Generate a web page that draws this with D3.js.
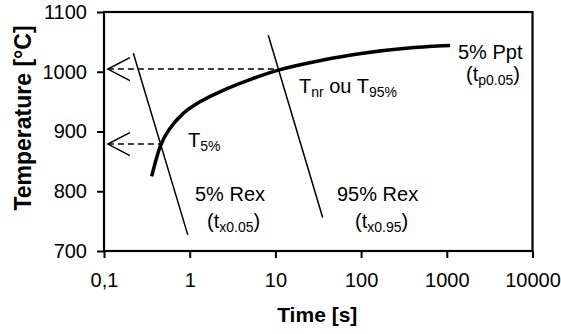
<!DOCTYPE html>
<html>
<head>
<meta charset="utf-8">
<script src="https://cdn.jsdelivr.net/npm/d3@7"></script>
<style>
  body { margin: 0; background: #fff; }
  text { font-family: "Liberation Sans", Arial, sans-serif; fill: #000; }
</style>
</head>
<body>
<svg id="chart" width="561" height="334"></svg>
<script>
// values
var xTicks = [0.1, 1, 10, 100, 1000, 10000];
var xTickLabels = ["0,1", "1", "10", "100", "1000", "10000"];
var yTicks = [700, 800, 900, 1000, 1100];

// 5% precipitation curve
var ppTime = [0.36, 0.45, 0.56, 0.8, 1.3, 2.3, 5.5, 10.8, 33, 97, 340, 1090];
var ppTemp = [825, 879, 902, 930, 950, 968, 989, 1004, 1019, 1031, 1040, 1044];

// recrystallisation lines (two end points each)
var rex5Time = [0.22, 0.95];
var rex5Temp = [1031, 727];
var rex95Time = [8.26, 35.6];
var rex95Temp = [1061, 756];

// dashed arrows: temperature, start time, end time on the curve
var arrowTemp = [1004.5, 879];
var arrowFrom = [0.111, 0.111];
var arrowTo = [10.8, 0.45];

var margin = { top: 12, right: 28.5, bottom: 83, left: 104 };
var width = 561 - margin.left - margin.right,
    height = 334 - margin.top - margin.bottom;

var svg = d3.select("#chart");
var g = svg.append("g").attr("transform", "translate(" + margin.left + "," + margin.top + ")");

var x = d3.scaleLog().domain([0.1, 10000]).range([0, width]);
var y = d3.scaleLinear().domain([700, 1100]).range([height, 0]);

// axes
var xAxis = g.append("g")
  .attr("transform", "translate(0," + height + ")")
  .call(d3.axisBottom(x).tickValues(xTicks).tickSize(7).tickFormat(function(d, i) { return xTickLabels[i]; }));
xAxis.select(".domain").remove();
xAxis.selectAll("line").attr("stroke", "#000").attr("stroke-width", 2);
xAxis.selectAll("text").attr("font-size", 20).attr("y", 22).attr("dy", "0.71em")
  .style("font-family", "Liberation Sans, Arial, sans-serif");

var yAxis = g.append("g")
  .call(d3.axisLeft(y).tickValues(yTicks).tickSize(7).tickPadding(10).tickFormat(d3.format("d")));
yAxis.select(".domain").remove();
yAxis.selectAll("line").attr("stroke", "#000").attr("stroke-width", 2);
yAxis.selectAll("text").attr("font-size", 20)
  .style("font-family", "Liberation Sans, Arial, sans-serif");

// frame
g.append("rect")
  .attr("x", 0).attr("y", 0)
  .attr("width", width).attr("height", height)
  .attr("fill", "none").attr("stroke", "#000").attr("stroke-width", 2.2);

// rex lines
function segment(ts, Ts) {
  g.append("line")
    .attr("x1", x(ts[0])).attr("y1", y(Ts[0]))
    .attr("x2", x(ts[1])).attr("y2", y(Ts[1]))
    .attr("stroke", "#000").attr("stroke-width", 1.5);
}
segment(rex5Time, rex5Temp);
segment(rex95Time, rex95Temp);

// dashed arrows
arrowTemp.forEach(function(T, i) {
  var x0 = x(arrowFrom[i]), x1 = x(arrowTo[i]), yy = y(T);
  g.append("line")
    .attr("x1", x0).attr("y1", yy).attr("x2", x1).attr("y2", yy)
    .attr("stroke", "#000").attr("stroke-width", 1.5).attr("stroke-dasharray", "6,4");
  g.append("path")
    .attr("d", "M" + (x0 + 22) + "," + (yy - 11.5) + "L" + x0 + "," + yy + "L" + (x0 + 22) + "," + (yy + 11.5))
    .attr("fill", "none").attr("stroke", "#000").attr("stroke-width", 1.5);
});

// precipitation curve
var line = d3.line()
  .x(function(d) { return x(d[0]); })
  .y(function(d) { return y(d[1]); })
  .curve(d3.curveBasis);
g.append("path")
  .datum(d3.zip(ppTime, ppTemp))
  .attr("d", line)
  .attr("fill", "none").attr("stroke", "#000").attr("stroke-width", 3.5);

// labels with subscripts
function label(px, py, parts) {
  var t = svg.append("text").attr("x", px).attr("y", py).attr("font-size", 20);
  var down = false;
  parts.forEach(function(p) {
    var sub = p[1];
    var s = t.append("tspan").text(p[0]);
    if (sub && !down) { s.attr("dy", 4).attr("font-size", 14); down = true; }
    else if (sub) { s.attr("font-size", 14); }
    else if (!sub && down) { s.attr("dy", -4); down = false; }
  });
}
label(188, 147, [["T"], ["5%", 1]]);
label(299, 93, [["T"], ["nr", 1], [" ou T"], ["95%", 1]]);
label(458, 59, [["5% Ppt"]]);
label(466, 81, [["(t"], ["p0.05", 1], [")"]]);
label(195, 201, [["5% Rex"]]);
label(207, 228, [["(t"], ["x0.05", 1], [")"]]);
label(337, 201, [["95% Rex"]]);
label(355, 228, [["(t"], ["x0.95", 1], [")"]]);

// axis titles
svg.append("text")
  .attr("x", margin.left + width / 2 - 1).attr("y", 322)
  .attr("text-anchor", "middle").attr("font-size", 21).attr("font-weight", "bold")
  .text("Time [s]");
svg.append("text")
  .attr("transform", "translate(31," + 118 + ") rotate(-90)")
  .attr("text-anchor", "middle").attr("font-size", 23).attr("font-weight", "bold")
  .text("Temperature [°C]");
</script>
</body>
</html>
